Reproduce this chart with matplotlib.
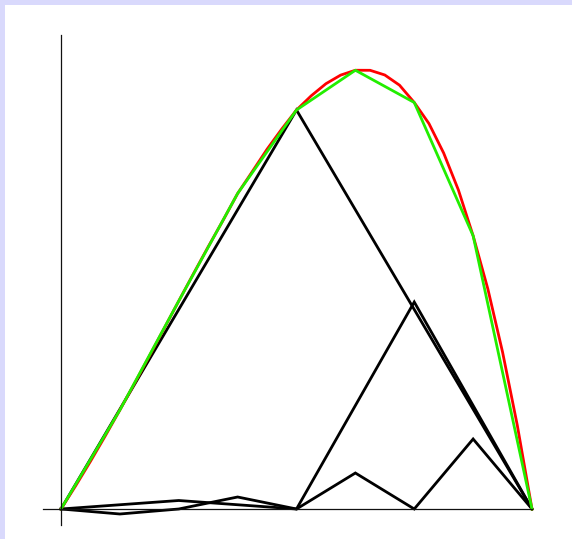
import numpy as np
import matplotlib
matplotlib.use('Agg')
import matplotlib.pyplot as plt

# smooth function (red), sampled every 1/32
t_fine = np.linspace(0, 1, 33)
f_fine = [0.0, 0.233, 0.476, 0.729, 0.99, 1.257, 1.529, 1.804, 2.08,
          2.353, 2.622, 2.884, 3.155, 3.375, 3.598, 3.80, 3.99,
          4.132, 4.253, 4.339, 4.3875, 4.387, 4.34, 4.238, 4.065,
          3.854, 3.559, 3.19, 2.7325, 2.201, 1.569, 0.838, 0.0]

# hierarchical hat components
t0 = [0, 0.5, 1]
lev0 = [0, 3.99, 0]
t1 = [0, 0.25, 0.5, 0.75, 1]
lev1 = [0, 0.085, 0, 2.07, 0]
t2 = np.linspace(0, 1, 9)
lev2 = [0, -0.05, 0, 0.12, 0, 0.36, 0, 0.70, 0]

# piecewise linear interpolant (green)
green = [0, 0.99, 2.08, 3.155, 3.99, 4.3875, 4.065, 2.7325, 0]

fig = plt.figure(figsize=(5.72, 5.39), dpi=100, facecolor='#d9d9fc')
ax = fig.add_axes([5/572, 0, 567/572, 534/539])
ax.set_facecolor('white')

lw = 2.0
ax.plot(t0, lev0, color='black', lw=lw, solid_joinstyle='miter')
ax.plot(t1, lev1, color='black', lw=lw, solid_joinstyle='miter')
ax.plot(t2, lev2, color='black', lw=lw, solid_joinstyle='miter')
ax.plot(t_fine, f_fine, color='#ff0000', lw=lw)
ax.plot(t2, green, color='#22ee00', lw=lw)

ax.set_xlim((5 - 61) / 471, (572 - 61) / 471)
ax.set_ylim((509 - 539) / 100, (509 - 5) / 100)

for s in ['top', 'right']:
    ax.spines[s].set_visible(False)
ax.spines['left'].set_position(('data', 0))
ax.spines['bottom'].set_position(('data', 0))
ax.spines['left'].set_bounds(-0.16, 4.74)
ax.spines['bottom'].set_bounds(-0.038, 1.0)
for s in ['left', 'bottom']:
    ax.spines[s].set_linewidth(0.9)
    ax.spines[s].set_color('#111111')
ax.set_xticks([])
ax.set_yticks([])

fig.savefig('out.png', dpi=100, facecolor=fig.get_facecolor())
